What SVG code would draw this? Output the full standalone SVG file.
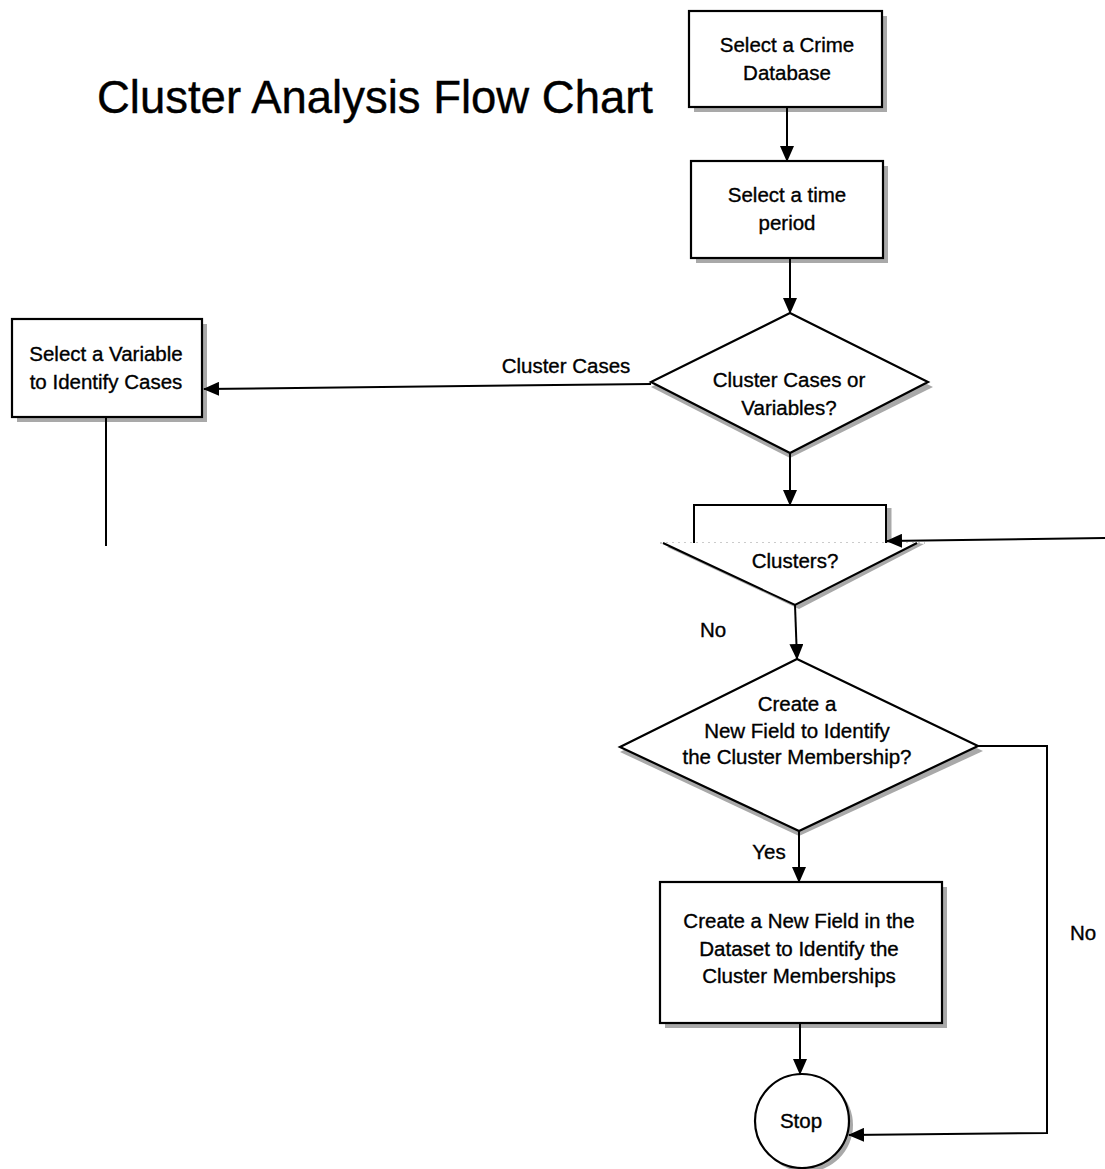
<svg xmlns="http://www.w3.org/2000/svg" width="1105" height="1169" viewBox="0 0 1105 1169">
<style>
  .box{fill:#fff;stroke:#000;stroke-width:2.2}
  .sh{fill:#a9a9a9;stroke:none}
  .shl{fill:none;stroke:#a9a9a9;stroke-width:5}
  .t{font-family:"Liberation Sans",Arial,sans-serif;font-size:20.5px;fill:#000;stroke:#000;stroke-width:0.35;text-anchor:middle}
  .title{font-family:"Liberation Sans",Arial,sans-serif;font-size:46px;fill:#000;stroke:#000;stroke-width:0.4}
  .ln{fill:none;stroke:#000;stroke-width:2}
</style>
<defs>
  <marker id="ah" markerUnits="userSpaceOnUse" markerWidth="16" markerHeight="14" refX="15" refY="7" orient="auto">
    <path d="M0,0 L16,7 L0,14 Z" fill="#000"/>
  </marker>
</defs>
<rect width="1105" height="1169" fill="#fff"/>
<text class="title" x="97" y="113" textLength="556" lengthAdjust="spacingAndGlyphs">Cluster Analysis Flow Chart</text>

<g id="n-crime-db">
  <rect class="sh" x="694" y="16" width="193" height="96"/>
  <rect class="box" x="689" y="11" width="193" height="96"/>
  <text class="t" x="787" y="52">Select a Crime</text>
  <text class="t" x="787" y="80">Database</text>
</g>
<g id="n-time">
  <rect class="sh" x="696" y="166" width="192" height="97"/>
  <rect class="box" x="691" y="161" width="192" height="97"/>
  <text class="t" x="787" y="202">Select a time</text>
  <text class="t" x="787" y="230">period</text>
</g>
<g id="n-cases-vars">
  <polygon class="sh" points="790,318 933,387 790,458 651,387"/>
  <polygon class="box" points="790,313 928,382 790,453 651,382"/>
  <text class="t" x="789" y="387">Cluster Cases or</text>
  <text class="t" x="789" y="415">Variables?</text>
</g>
<g id="n-variable">
  <rect class="sh" x="17" y="324" width="190" height="98"/>
  <rect class="box" x="12" y="319" width="190" height="98"/>
  <text class="t" x="106" y="361">Select a Variable</text>
  <text class="t" x="106" y="389">to Identify Cases</text>
</g>
<g id="n-clusters">
  <line class="shl" x1="889" y1="508" x2="889" y2="543"/>
  <polyline class="ln" points="694,543 694,505 886,505 886,543" stroke-width="2.2"/>
  <line x1="660" y1="543" x2="925" y2="543" stroke="#bbb" stroke-width="1.5" stroke-dasharray="2,4"/>
  <polygon class="sh" points="667,547 799,609 924,544 917,543"/>
  <polygon points="663,543 795,605 917,543" fill="#fff" stroke="none"/>
  <polyline class="ln" points="663,543 795,605 917,543" stroke-width="2.2"/>
  <text class="t" x="795" y="568">Clusters?</text>
</g>
<g id="n-new-field-q">
  <polygon class="sh" points="797,664 983,751 799,836 620,752"/>
  <polygon class="box" points="797,659 978,746 799,831 620,747"/>
  <text class="t" x="797" y="711">Create a</text>
  <text class="t" x="797" y="738">New Field to Identify</text>
  <text class="t" x="797" y="764">the Cluster Membership?</text>
</g>
<g id="n-new-field">
  <rect class="sh" x="665" y="887" width="282" height="141"/>
  <rect class="box" x="660" y="882" width="282" height="141"/>
  <text class="t" x="799" y="928">Create a New Field in the</text>
  <text class="t" x="799" y="956">Dataset to Identify the</text>
  <text class="t" x="799" y="983">Cluster Memberships</text>
</g>
<g id="n-stop">
  <circle class="sh" cx="806" cy="1125" r="47"/>
  <circle class="box" cx="802" cy="1121" r="47"/>
  <text class="t" x="801" y="1128">Stop</text>
</g>

<g id="connectors">
  <line class="ln" x1="787" y1="107" x2="787" y2="161" marker-end="url(#ah)"/>
  <line class="ln" x1="790" y1="258" x2="790" y2="313" marker-end="url(#ah)"/>
  <line class="ln" x1="651" y1="384" x2="204" y2="389" marker-end="url(#ah)"/>
  <line class="ln" x1="106" y1="417" x2="106" y2="546"/>
  <line class="ln" x1="790" y1="453" x2="790" y2="505" marker-end="url(#ah)"/>
  <line class="ln" x1="1105" y1="538" x2="887" y2="541" marker-end="url(#ah)"/>
  <line class="ln" x1="795" y1="605" x2="797" y2="659" marker-end="url(#ah)"/>
  <line class="ln" x1="799" y1="831" x2="799" y2="882" marker-end="url(#ah)"/>
  <line class="ln" x1="800" y1="1023" x2="800" y2="1074" marker-end="url(#ah)"/>
  <polyline class="ln" points="978,746 1047,746 1047,1133 849,1135" marker-end="url(#ah)"/>
  <text class="t" x="566" y="373">Cluster Cases</text>
  <text class="t" x="713" y="637">No</text>
  <text class="t" x="769" y="859">Yes</text>
  <text class="t" x="1083" y="940">No</text>
</g>
</svg>
